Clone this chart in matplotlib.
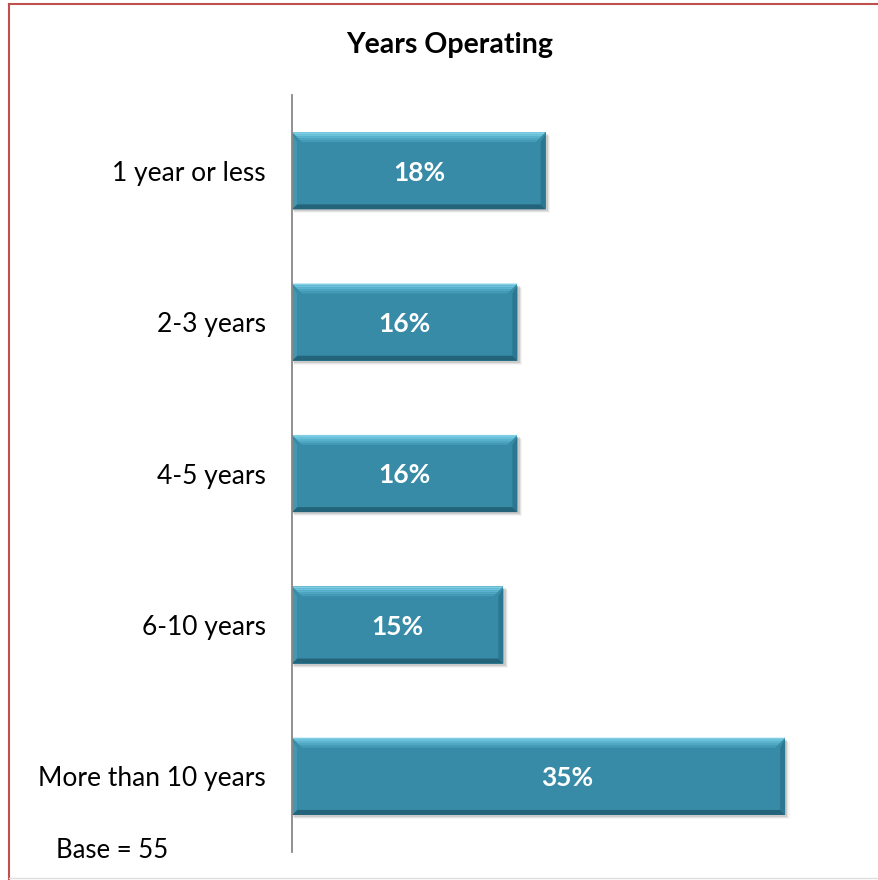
import numpy as np
import matplotlib.pyplot as plt
from matplotlib.patches import Rectangle, Polygon
from matplotlib.lines import Line2D

# Data
categories = ['1 year or less', '2-3 years', '4-5 years', '6-10 years', 'More than 10 years']
values = [18, 16, 16, 15, 35]
value_labels = ['18%', '16%', '16%', '15%', '35%']
title = 'Years Operating'
base_note = 'Base = 55'

# the last label sits a bit right of the bar centre in the original
label_shift = [0, 0, 0, 0, 2.05]

plt.rcParams['font.family'] = ['Lato', 'DejaVu Sans']

bar_color = '#378ba6'
dark_edge = '#24647a'

fig = plt.figure(figsize=(8.79, 8.8), dpi=100)
ax = fig.add_axes([0.3322, 0.0318, 0.6412, 0.8602])

y = np.arange(len(categories))
bars = ax.barh(y, values, height=0.51, color=bar_color, zorder=3)
ax.set_ylim(len(categories) - 0.5, -0.5)
ax.set_xlim(0, 40)

# bevel and shadow, built from the bar geometry
px_x = 1 / 14.09  # data units per pixel, x
px_y = 1 / 151.4  # data units per pixel, y
for b in bars:
    x0, y0 = b.get_x(), b.get_y()
    w, h = b.get_width(), b.get_height()
    x1, y1 = x0 + w, y0 + h
    # soft shadow below / right
    for k, a in enumerate([0.10, 0.07, 0.04]):
        off = (k + 2)
        ax.add_patch(Rectangle((x0 + off * px_x * 0.5, y0 + off * px_y), w + off * px_x * 0.6, h,
                               color='#000000', alpha=a, lw=0, zorder=2))
    # top bevel: light band fading into the bar colour
    top_cols = ['#7fd0e6', '#6cc3dc', '#5cb5d0', '#4ea7c3', '#439bb6']
    for i, c in enumerate(top_cols):
        d0 = i * 2 * px_y
        d1 = (i + 1) * 2 * px_y
        e0 = i * 2 * px_x
        e1 = (i + 1) * 2 * px_x
        ax.add_patch(Polygon([(x0 + e0, y0 + d0), (x1 - e0, y0 + d0), (x1 - e1, y0 + d1), (x0 + e1, y0 + d1)],
                             closed=True, color=c, lw=0, zorder=4))
    bx = 5 * px_x
    by = 5 * px_y
    # bottom (dark)
    ax.add_patch(Polygon([(x0, y1), (x1, y1), (x1 - bx, y1 - by), (x0 + bx, y1 - by)],
                         closed=True, color=dark_edge, lw=0, zorder=4))
    # left
    ax.add_patch(Polygon([(x0, y0 + 2 * px_y), (x0 + bx, y0 + 10 * px_y), (x0 + bx, y1 - by), (x0, y1)],
                         closed=True, color='#4596ae', lw=0, zorder=4))
    # right
    ax.add_patch(Polygon([(x1, y0 + 2 * px_y), (x1 - bx, y0 + 10 * px_y), (x1 - bx, y1 - by), (x1, y1)],
                         closed=True, color='#2b7690', lw=0, zorder=4))

for yi, v, lab, sh in zip(y, values, value_labels, label_shift):
    ax.text(v / 2 + sh, yi + 0.012, lab, ha='center', va='center', color='white',
            fontsize=19, fontweight='bold', zorder=5)

ax.set_yticks(y)
ax.set_yticklabels(categories, fontsize=19)
ax.tick_params(axis='y', length=0, pad=19)
ax.set_xticks([])
for s in ['top', 'right', 'bottom']:
    ax.spines[s].set_visible(False)
ax.spines['left'].set_color('#888888')
ax.spines['left'].set_linewidth(1.3)
ax.spines['left'].set_zorder(6)

fig.text(0.511, 0.949, title, ha='center', va='center', fontsize=20.5, fontweight='bold')
fig.text(0.0637, 0.033, base_note, ha='left', va='center', fontsize=18.5)

# frame around the chart
fig.add_artist(Line2D([0.0097, 0.0097], [0.0, 0.9955], color='#c0504d', lw=1.5))
fig.add_artist(Line2D([0.0097, 1.0], [0.9955, 0.9955], color='#c0504d', lw=1.5))
fig.add_artist(Line2D([0.0097, 1.0], [0.002, 0.002], color='#dddddd', lw=1.0))

fig.savefig('out.png', dpi=100)
